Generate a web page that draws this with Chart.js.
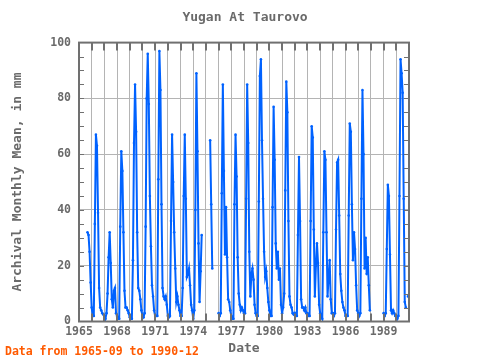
<!DOCTYPE html>
<html>
<head>
<meta charset="utf-8">
<title>Yugan At Taurovo</title>
<script src="https://cdn.jsdelivr.net/npm/chart.js@4.4.1/dist/chart.umd.min.js"></script>
<style>
  html, body { margin: 0; padding: 0; background: #ffffff; }
  #wrap { width: 480px; height: 360px; }
</style>
</head>
<body>
<div id="wrap"><canvas id="flow-chart" width="480" height="360"></canvas></div>
<script>
const chartTitle = 'Yugan At Taurovo';
const footerText = 'Data from 1965-09 to 1990-12';
const yTitle = 'Archival Monthly Mean, in mm';
const xTitle = 'Date';

// first value is 1965-09, one value per month, null = no data
const startYear = 1965;
const startMonth = 9;
const monthlyMm = [
    32, 31, 25, 14,                                        // 1965 Sep-Dec
    5, 2, 2, 35, 67, 63, 39, 12, 5, 4, 3, 2.5,             // 1966
    2, 1, 3, 10, 23, 32, 21, 8, 5, 11, 12, 3,              // 1967
    2, 1, 1, 34, 61, 54, 32, 11, 5, 5, 4, 3,               // 1968
    1.5, 1, 1, 22, 64, 85, 68, 32, 12, 11, 8, 4,           // 1969
    2, 1.5, 3, 34, 80, 96, 78, 45, 27, 13, 9, 4,           // 1970
    2, 2, 2, 51, 97, 83, 42, 12, 9, 8, 9, 6,               // 1971
    2, 1.5, 2, 36, 67, 50, 32, 19, 7, 9, 6, 4,             // 1972
    2, 2, 12, 45, 67, 44, 16, 17, 19, 13, 6, 4,            // 1973
    1, 4, 40, 89, 61, 28, 7, 18, 31, null, null, null,     // 1974
    null, null, null, null, 65, 42, 19, null, null, null, null, null, // 1975
    3, 2, 3, 46, 85, 54, 24, 41, 23, 8, 7, 4,              // 1976
    2, 1, 1, 42, 67, 52, 23, 10, 6, 4, 5, 4,               // 1977
    3, 3, 44, 85, 64, 25, 9, 17, 19, 15, 6, 3,             // 1978
    2, 2, 43, 88, 94, 65, 44, 25, 16, 18, 12, 7,           // 1979
    4, 2, 2, 41, 77, 58, 28, 19, 25, 15, 19, 6,            // 1980
    3, 5, 10, 47, 86, 75, 36, 9, 6, 5, 3, 2.5,             // 1981
    3, 2, 2, 31, 59, 36, 8, 5, 5, 4, 5, 3,                 // 1982
    3, 2, 2, 36, 70, 66, 33, 9, 20, 28, 21, 6,             // 1983
    3, 2, 1, 32, 61, 58, 32, 9, 16, 22, 8, 3,              // 1984
    3, 2, 3, 33, 57, 58, 38, 17, 11, 7, 5, 4,              // 1985
    2, 2, 2, 38, 71, 68, 42, 22, 32, 26, 13, 4,            // 1986
    3, 2, 3, 44, 83, 60, 19, 30, 17, 23, 13, 4,            // 1987
    null, null, null, null, null, null, null, null, null, null, null, null, // 1988
    3, 2, 3, 26, 49, 45, 24, 4, 3, 4, 3, 2,                // 1989
    2, 1, 2, 45, 94, 89, 82, 44, 7, 5, null, 9             // 1990
];

const yearLabels = [1965, 1968, 1971, 1974, 1977, 1980, 1983, 1986, 1989];
const xMin = 1965, xMax = 1991;
const yMin = 0, yMax = 100;

const lineColor = '#0062ff';
const textColor = '#6a6a6a';
const frameColor = '#707070';
const gridColor = '#b4b4b4';
const monoFont = "'DejaVu Sans Mono', monospace";

const points = monthlyMm.map((v, i) => ({
    x: startYear + (startMonth - 1 + i) / 12,
    y: v
}));

// frame, inward tick marks and the footer note
const frameTicks = {
    id: 'frameTicks',
    afterDatasetsDraw(chart) {
        const ctx = chart.ctx;
        const a = chart.chartArea;
        const x = chart.scales.x;
        const y = chart.scales.y;
        ctx.save();
        ctx.strokeStyle = frameColor;
        ctx.lineWidth = 2;
        ctx.strokeRect(a.left, a.top, a.right - a.left, a.bottom - a.top);
        ctx.beginPath();
        for (let yr = xMin + 1; yr < xMax; yr++) {
            const px = Math.round(x.getPixelForValue(yr));
            ctx.moveTo(px, a.top); ctx.lineTo(px, a.top + 8);
            ctx.moveTo(px, a.bottom); ctx.lineTo(px, a.bottom - 8);
        }
        ctx.stroke();
        ctx.lineWidth = 1;
        ctx.beginPath();
        for (let v = yMin + 5; v < yMax; v += 5) {
            const py = Math.round(y.getPixelForValue(v)) + 0.5;
            ctx.moveTo(a.left, py); ctx.lineTo(a.left + 5, py);
            ctx.moveTo(a.right, py); ctx.lineTo(a.right - 5, py);
        }
        ctx.stroke();

        ctx.fillStyle = '#ff5a00';
        ctx.font = "bold 11.5px " + monoFont;
        ctx.textBaseline = 'middle';
        ctx.textAlign = 'left';
        ctx.fillText(footerText, 5, 352);
        ctx.restore();
    }
};

new Chart(document.getElementById('flow-chart'), {
    type: 'line',
    data: {
        datasets: [{
            label: chartTitle,
            data: points,
            borderColor: lineColor,
            backgroundColor: lineColor,
            borderWidth: 2,
            pointRadius: 1.3,
            pointBorderWidth: 0,
            pointBackgroundColor: lineColor,
            spanGaps: false,
            tension: 0
        }]
    },
    options: {
        responsive: false,
        animation: false,
        layout: { padding: { left: 10, right: 0, top: 0, bottom: 0 } },
        plugins: {
            legend: { display: false },
            tooltip: { enabled: false },
            title: {
                display: true,
                text: chartTitle,
                color: textColor,
                font: { family: monoFont, size: 13, weight: 'bold' },
                padding: { top: 10, bottom: 17 }
            }
        },
        scales: {
            x: {
                type: 'linear',
                min: xMin,
                max: xMax,
                afterFit: scale => { scale.height = 38.5; },
                grid: { color: gridColor, drawTicks: false },
                border: { display: false },
                ticks: {
                    stepSize: 1,
                    autoSkip: false,
                    maxRotation: 0,
                    padding: 4,
                    color: textColor,
                    font: { family: monoFont, size: 11.5, weight: 'bold' },
                    callback: v => yearLabels.includes(v) ? String(v) : ''
                },
                title: {
                    display: true,
                    text: xTitle,
                    color: textColor,
                    font: { family: monoFont, size: 13, weight: 'bold' },
                    padding: { top: 0, bottom: 4 }
                }
            },
            y: {
                min: yMin,
                max: yMax,
                afterFit: scale => { scale.width = 69; },
                grid: { color: gridColor, drawTicks: false },
                border: { display: false },
                ticks: {
                    stepSize: 20,
                    padding: 8,
                    color: textColor,
                    font: { family: monoFont, size: 11.5, weight: 'bold' }
                },
                title: {
                    display: true,
                    text: yTitle,
                    color: textColor,
                    font: { family: monoFont, size: 13, weight: 'bold' },
                    padding: { top: 0, bottom: 0 }
                }
            },
            yRight: {
                position: 'right',
                min: yMin,
                max: yMax,
                afterFit: scale => { scale.width = 71; },
                grid: { display: false },
                border: { display: false },
                ticks: { display: false }
            }
        }
    },
    plugins: [frameTicks]
});
</script>
</body>
</html>
